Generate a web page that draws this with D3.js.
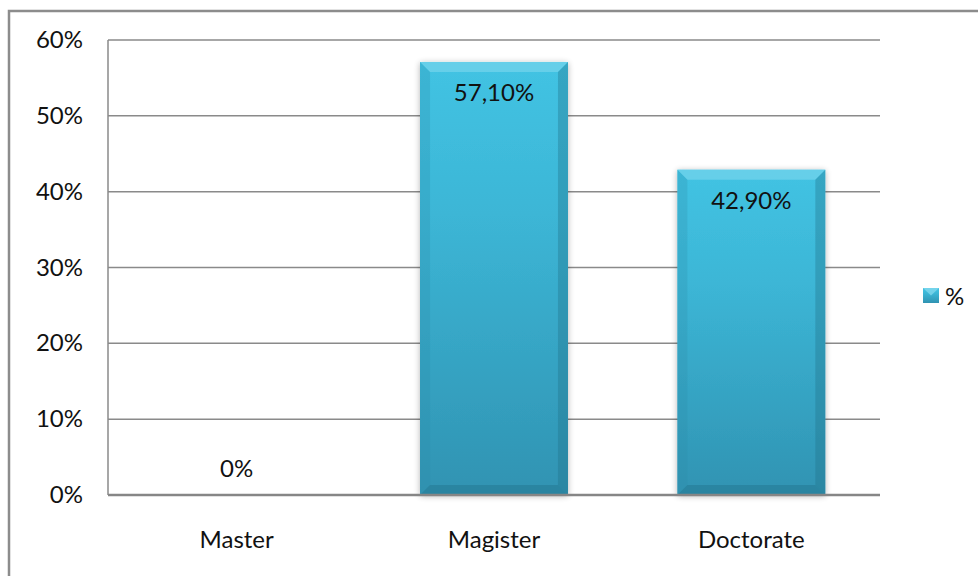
<!DOCTYPE html>
<html>
<head>
<meta charset="utf-8">
<script src="https://cdn.jsdelivr.net/npm/d3@7"></script>
<style>
  body { margin: 0; background: #fff; }
  svg { display: block; font-family: Lato, "Open Sans", sans-serif; }
</style>
</head>
<body>
<svg width="978" height="576"></svg>
<script>
// chart values
const categories = ["Master", "Magister", "Doctorate"];
const values = [0, 57.1, 42.9];
const valueLabels = ["0%", "57,10%", "42,90%"];
const yTicks = [0, 10, 20, 30, 40, 50, 60];
const seriesName = "%";

var svg = d3.select("svg"),
    width = +svg.attr("width"),
    height = +svg.attr("height");

var margin = {left: 108, top: 40, right: 98, bottom: 81};
var fontSize = "24px";

// outer chart frame (extends past the window on right/bottom)
svg.append("rect")
    .attr("x", 9).attr("y", 11)
    .attr("width", 1000).attr("height", 600)
    .attr("fill", "#fff")
    .attr("stroke", "#8c8c8c")
    .attr("stroke-width", 2.5);

var x = d3.scaleBand()
    .domain(categories)
    .range([margin.left, width - margin.right])
    .paddingInner(0.425)
    .paddingOuter(0.2125);

var y = d3.scaleLinear()
    .domain([0, 60])
    .range([height - margin.bottom, margin.top]);

var defs = svg.append("defs");
var grad = defs.append("linearGradient")
    .attr("id", "barGrad").attr("x1", 0).attr("y1", 0).attr("x2", 0).attr("y2", 1);
grad.append("stop").attr("offset", "0%").attr("stop-color", "#42c3e3");
grad.append("stop").attr("offset", "35%").attr("stop-color", "#3cb6d6");
grad.append("stop").attr("offset", "100%").attr("stop-color", "#3093b2");

var shadow = defs.append("filter").attr("id", "shadow")
    .attr("x", "-10%").attr("y", "-10%").attr("width", "120%").attr("height", "120%");
shadow.append("feGaussianBlur").attr("in", "SourceAlpha").attr("stdDeviation", 3);
shadow.append("feOffset").attr("dx", 0).attr("dy", 1).attr("result", "blur");
var fct = shadow.append("feComponentTransfer");
fct.append("feFuncA").attr("type", "linear").attr("slope", 0.3);
var merge = shadow.append("feMerge");
merge.append("feMergeNode");
merge.append("feMergeNode").attr("in", "SourceGraphic");

// gridlines
svg.append("g")
    .selectAll("line")
    .data(yTicks.filter(d => d > 0))
    .enter().append("line")
        .attr("x1", margin.left).attr("x2", width - margin.right)
        .attr("y1", d => y(d)).attr("y2", d => y(d))
        .style("stroke", "#8a8a8a")
        .style("stroke-width", 1.5);

// plot-area left edge
svg.append("line")
    .attr("x1", margin.left).attr("x2", margin.left)
    .attr("y1", y(60)).attr("y2", y(0))
    .style("stroke", "#8a8a8a").style("stroke-width", 1.5);

// y tick labels
svg.append("g")
    .selectAll("text")
    .data(yTicks)
    .enter().append("text")
        .attr("x", 83)
        .attr("y", d => y(d) + 8)
        .attr("text-anchor", "end")
        .style("font-size", fontSize)
        .style("fill", "#111")
        .text(d => d + "%");

// bars with bevel
var bev = 10;
var bars = svg.append("g").selectAll("g")
    .data(categories.map((c, i) => ({cat: c, v: values[i], label: valueLabels[i]})))
    .enter().append("g");

bars.filter(d => d.v > 0).each(function(d) {
    var g = d3.select(this);
    var x0 = x(d.cat), x1 = x0 + x.bandwidth();
    var y0 = y(d.v), y1 = y(0);
    g.append("rect")
        .attr("x", x0).attr("y", y0)
        .attr("width", x.bandwidth()).attr("height", y1 - y0)
        .attr("fill", "url(#barGrad)")
        .attr("filter", "url(#shadow)");
    // top bevel (light)
    g.append("polygon")
        .attr("points", [[x0, y0], [x1, y0], [x1 - bev, y0 + bev], [x0 + bev, y0 + bev]].join(" "))
        .attr("fill", "#8adcf0").attr("opacity", 0.5);
    // left bevel
    g.append("polygon")
        .attr("points", [[x0, y0], [x0 + bev, y0 + bev], [x0 + bev, y1 - bev], [x0, y1]].join(" "))
        .attr("fill", "#2a8aa8").attr("opacity", 0.25);
    // right bevel (darker)
    g.append("polygon")
        .attr("points", [[x1, y0], [x1 - bev, y0 + bev], [x1 - bev, y1 - bev], [x1, y1]].join(" "))
        .attr("fill", "#1f6f88").attr("opacity", 0.35);
    // bottom bevel
    g.append("polygon")
        .attr("points", [[x0, y1], [x0 + bev, y1 - bev], [x1 - bev, y1 - bev], [x1, y1]].join(" "))
        .attr("fill", "#1f6f88").attr("opacity", 0.4);
});

// value labels
bars.append("text")
    .attr("x", d => x(d.cat) + x.bandwidth() / 2)
    .attr("y", d => d.v > 0 ? y(d.v) + 39 : y(0) - 18)
    .attr("text-anchor", "middle")
    .style("font-size", fontSize)
    .style("fill", "#111")
    .text(d => d.label);

// x axis line
svg.append("line")
    .attr("x1", margin.left).attr("x2", width - margin.right)
    .attr("y1", y(0)).attr("y2", y(0))
    .style("stroke", "#868686").style("stroke-width", 2.5);

// category labels
svg.append("g")
    .selectAll("text")
    .data(categories)
    .enter().append("text")
        .attr("x", d => x(d) + x.bandwidth() / 2)
        .attr("y", 548)
        .attr("text-anchor", "middle")
        .style("font-size", fontSize)
        .style("fill", "#111")
        .text(d => d);

// legend
var lg = svg.append("g").attr("transform", "translate(923,288)");
lg.append("rect")
    .attr("x", 0).attr("y", 0).attr("width", 16).attr("height", 15)
    .attr("fill", "url(#barGrad)");
lg.append("polygon").attr("points", "0,0 16,0 8,7.5").attr("fill", "#8adcf0").attr("opacity", 0.7);
lg.append("text")
    .attr("x", 22).attr("y", 17)
    .style("font-size", fontSize)
    .style("fill", "#111")
    .text(seriesName);
</script>
</body>
</html>
